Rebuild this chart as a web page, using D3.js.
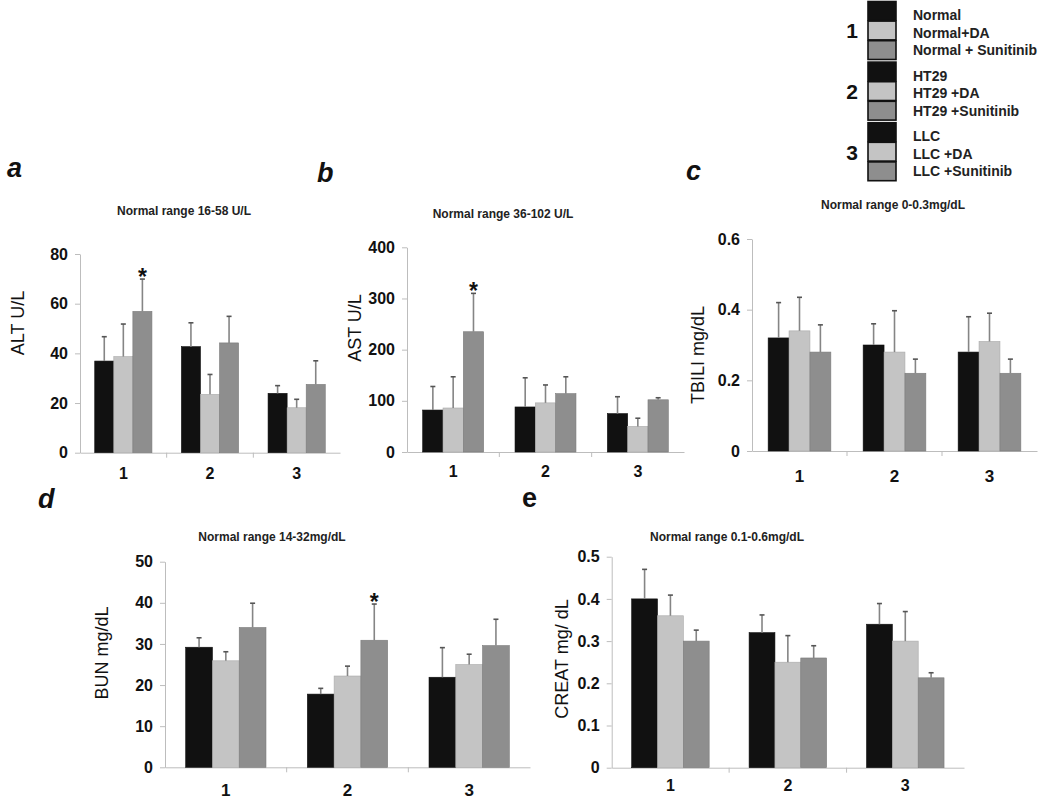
<!DOCTYPE html>
<html>
<head>
<meta charset="utf-8">
<script src="https://cdn.jsdelivr.net/npm/d3@7"></script>
<style>
  html, body { margin: 0; padding: 0; background: #fff; }
  svg { display: block; font-family: "Liberation Sans", Arial, sans-serif; }
</style>
</head>
<body>
<script>
// ---------------- DATA ----------------
const categories = ["1", "2", "3"];
const seriesNames = ["Control", "+DA", "+Sunitinib"];

// a: ALT (U/L)  [category][series]
const altMean = [[36.9, 38.7, 56.9], [42.7, 23.5, 44.2], [23.9, 18.1, 27.5]];
const altSD   = [[9.8, 13.1, 13.0], [9.6, 8.0, 10.7], [3.1, 3.4, 9.5]];
const altTicks = [0, 20, 40, 60, 80];
const altStars = [[0, 2]];

// b: AST (U/L)
const astMean = [[82, 86, 235], [88, 96, 114], [75, 50, 102]];
const astSD   = [[46, 61, 75], [57, 35, 33], [33, 16, 4]];
const astTicks = [0, 100, 200, 300, 400];
const astStars = [[0, 2]];

// c: TBILI (mg/dL)
const tbiliMean = [[0.32, 0.34, 0.28], [0.30, 0.28, 0.22], [0.28, 0.31, 0.22]];
const tbiliSD   = [[0.10, 0.095, 0.077], [0.06, 0.117, 0.04], [0.10, 0.08, 0.04]];
const tbiliTicks = [0, 0.2, 0.4, 0.6];
const tbiliStars = [];

// d: BUN (mg/dL)
const bunMean = [[29.2, 25.9, 34.0], [17.8, 22.2, 30.9], [21.9, 25.0, 29.6]];
const bunSD   = [[2.3, 2.2, 5.9], [1.4, 2.4, 8.8], [7.2, 2.5, 6.4]];
const bunTicks = [0, 10, 20, 30, 40, 50];
const bunStars = [[1, 2]];

// e: CREAT (mg/dL)
const creatMean = [[0.40, 0.36, 0.30], [0.32, 0.25, 0.26], [0.34, 0.30, 0.213]];
const creatSD   = [[0.07, 0.049, 0.026], [0.042, 0.063, 0.029], [0.049, 0.07, 0.012]];
const creatTicks = [0, 0.1, 0.2, 0.3, 0.4, 0.5];
const creatStars = [];

// legend
const legendGroups = ["1", "2", "3"];
const legendLabels = [
  ["Normal", "Normal+DA", "Normal + Sunitinib"],
  ["HT29", "HT29 +DA", "HT29 +Sunitinib"],
  ["LLC", "LLC +DA", "LLC +Sunitinib"]
];

// ---------------- STYLE ----------------
const barColors = ["#111111", "#c4c4c4", "#8e8e8e"];
const axisColor = "#bdbdbd";

const svg = d3.select("body").append("svg")
  .attr("width", 1050).attr("height", 805);
svg.append("rect").attr("width", 1050).attr("height", 805).attr("fill", "#fff");

const fmtInt = d3.format("d");
const fmtDec = d => d === 0 ? "0" : d3.format(".1f")(d);

const panels = [
  { letter: "a", italic: true, lx: 7, ly: 177, mean: altMean, sd: altSD, ticks: altTicks, stars: altStars,
    max: 80, fmt: fmtInt, x0: 80, x1: 340, y0: 452.7, y1: 254,
    title: "Normal range 16-58 U/L", tx: 184, ty: 215,
    ylabel: "ALT U/L", yx: 18, yy: 323, xlOff: 27, xlSize: 16 },
  { letter: "b", italic: true, lx: 317, ly: 182, mean: astMean, sd: astSD, ticks: astTicks, stars: astStars,
    max: 400, fmt: fmtInt, x0: 407, x1: 684, y0: 452, y1: 247.3,
    title: "Normal range 36-102 U/L", tx: 503, ty: 218,
    ylabel: "AST U/L", yx: 355, yy: 328, xlOff: 26, xlSize: 16 },
  { letter: "c", italic: true, lx: 686, ly: 180, mean: tbiliMean, sd: tbiliSD, ticks: tbiliTicks, stars: tbiliStars,
    max: 0.6, fmt: fmtDec, x0: 752, x1: 1037, y0: 451, y1: 239,
    title: "Normal range 0-0.3mg/dL", tx: 893, ty: 209,
    ylabel: "TBILI mg/dL", yx: 698, yy: 355, xlOff: 31, xlSize: 17 },
  { letter: "d", italic: true, lx: 38, ly: 508, mean: bunMean, sd: bunSD, ticks: bunTicks, stars: bunStars,
    max: 50, fmt: fmtInt, x0: 165, x1: 530, y0: 767.3, y1: 561.7,
    title: "Normal range 14-32mg/dL", tx: 272, ty: 541,
    ylabel: "BUN mg/dL", yx: 102, yy: 653, xlOff: 29, xlSize: 17 },
  { letter: "e", italic: false, lx: 522, ly: 507, mean: creatMean, sd: creatSD, ticks: creatTicks, stars: creatStars,
    max: 0.5, fmt: fmtDec, x0: 611.7, x1: 964, y0: 767.7, y1: 556.7,
    title: "Normal range 0.1-0.6mg/dL", tx: 727, ty: 541,
    ylabel: "CREAT mg/ dL", yx: 562, yy: 659, xlOff: 24, xlSize: 16 }
];

function drawPanel(p) {
  const g = svg.append("g");
  const x = d3.scaleBand().domain(categories).range([p.x0, p.x1])
    .paddingInner(0.34).paddingOuter(0.17);
  const xs = d3.scaleBand().domain(d3.range(seriesNames.length)).range([0, x.bandwidth()]);
  const y = d3.scaleLinear().domain([0, p.max]).range([p.y0, p.y1]);

  // y axis
  const ya = g.append("g").attr("transform", `translate(${p.x0},0)`)
    .call(d3.axisLeft(y).tickValues(p.ticks).tickSize(5).tickSizeOuter(0)
      .tickPadding(7).tickFormat(p.fmt));
  ya.select(".domain").attr("stroke", axisColor);
  ya.selectAll(".tick line").attr("stroke", axisColor);
  ya.selectAll(".tick text").attr("fill", "#111").attr("font-size", 16)
    .attr("font-weight", "bold").attr("font-family", "'Liberation Sans', Arial, sans-serif");

  // x axis
  const xa = g.append("g").attr("transform", `translate(0,${p.y0})`)
    .call(d3.axisBottom(x).tickSize(0).tickSizeOuter(0).tickPadding(p.xlOff - 12));
  xa.select(".domain").attr("stroke", axisColor);
  xa.selectAll(".tick text").attr("fill", "#111").attr("font-size", p.xlSize)
    .attr("font-weight", "bold").attr("font-family", "'Liberation Sans', Arial, sans-serif");
  // category separators
  g.selectAll(".sep").data(categories.slice(1)).join("line")
    .attr("x1", d => x(d) - x.step() * x.paddingInner() / 2)
    .attr("x2", d => x(d) - x.step() * x.paddingInner() / 2)
    .attr("y1", p.y0).attr("y2", p.y0 + 5)
    .attr("stroke", axisColor);

  // bars
  const cells = [];
  categories.forEach((c, i) => seriesNames.forEach((s, j) => {
    cells.push({ c, i, j, v: p.mean[i][j], e: p.sd[i][j] });
  }));
  g.selectAll(".bar").data(cells).join("rect")
    .attr("x", d => x(d.c) + xs(d.j))
    .attr("y", d => y(d.v))
    .attr("width", xs.bandwidth())
    .attr("height", d => p.y0 - y(d.v))
    .attr("fill", d => barColors[d.j])
    .attr("stroke", d => d3.color(barColors[d.j]).darker(0.4))
    .attr("stroke-width", 0.6);

  // error bars
  const cx = d => x(d.c) + xs(d.j) + xs.bandwidth() / 2;
  g.selectAll(".err").data(cells).join("line")
    .attr("x1", cx).attr("x2", cx)
    .attr("y1", d => y(d.v)).attr("y2", d => y(d.v + d.e))
    .attr("stroke", "#858585").attr("stroke-width", 1.6);
  g.selectAll(".cap").data(cells).join("line")
    .attr("x1", d => cx(d) - 2.5).attr("x2", d => cx(d) + 2.5)
    .attr("y1", d => y(d.v + d.e)).attr("y2", d => y(d.v + d.e))
    .attr("stroke", "#555").attr("stroke-width", 1.6);

  // significance stars
  g.selectAll(".star").data(p.stars).join("text")
    .attr("x", s => x(categories[s[0]]) + xs(s[1]) + xs.bandwidth() / 2)
    .attr("y", s => y(p.mean[s[0]][s[1]] + p.sd[s[0]][s[1]]) + 6)
    .attr("text-anchor", "middle").attr("font-size", 23).attr("font-weight", "bold")
    .attr("fill", "#111").text("*");

  // title
  g.append("text").attr("x", p.tx).attr("y", p.ty).attr("text-anchor", "middle")
    .attr("font-size", 12).attr("font-weight", "bold").attr("fill", "#222").text(p.title);

  // y label
  g.append("text").attr("transform", `translate(${p.yx},${p.yy}) rotate(-90)`)
    .attr("text-anchor", "middle").attr("dy", "0.36em")
    .attr("font-size", 18).attr("fill", "#111").text(p.ylabel);

  // panel letter
  g.append("text").attr("x", p.lx).attr("y", p.ly)
    .attr("font-size", 27).attr("font-weight", "bold")
    .attr("font-style", p.italic ? "italic" : "normal")
    .attr("fill", "#111").text(p.letter);
}

panels.forEach(drawPanel);

// ---------------- LEGEND ----------------
const lg = svg.append("g");
const rowH = 19.6, groupH = 60.6, sw = 28, swX = 868, txX = 913;
legendGroups.forEach((grp, gi) => {
  const gy = 1.5 + gi * groupH;
  lg.append("text").attr("x", 852).attr("y", gy + rowH * 1.5)
    .attr("dy", "0.36em").attr("text-anchor", "middle")
    .attr("font-size", 21).attr("font-weight", "bold").attr("fill", "#111").text(grp);
  legendLabels[gi].forEach((lab, li) => {
    lg.append("rect").attr("x", swX).attr("y", gy + li * rowH)
      .attr("width", sw).attr("height", rowH - 0.8)
      .attr("fill", barColors[li]).attr("stroke", "#111").attr("stroke-width", 1.6);
    lg.append("text").attr("x", txX).attr("y", gy + li * 17.6 + 13.5)
      .attr("dy", "0.36em")
      .attr("font-size", 14).attr("font-weight", "bold").attr("fill", "#222").text(lab);
  });
});
</script>
</body>
</html>
